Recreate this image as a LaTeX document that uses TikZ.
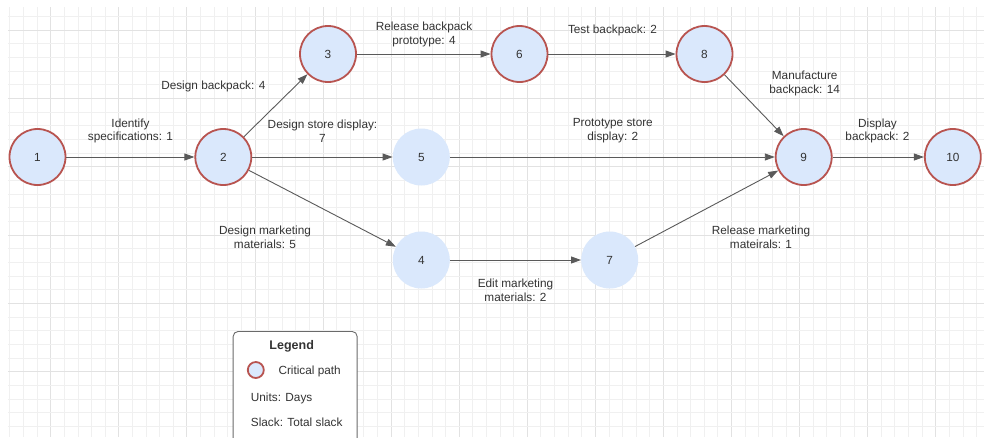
\documentclass[tikz,border=0pt]{standalone}
\usepackage{fontspec}
\setmainfont{Liberation Sans}
\usetikzlibrary{arrows.meta}
\definecolor{critred}{HTML}{B85450}
\definecolor{nodefill}{HTML}{DAE8FC}
\definecolor{txt}{HTML}{333333}
\definecolor{edgegray}{HTML}{5A5A5A}
\definecolor{gridminor}{HTML}{F0F0F0}
\definecolor{gridmajor}{HTML}{E2E2E2}
\definecolor{legendgray}{HTML}{6A6A6A}
\tikzset{
  lbl/.style={font=\fontsize{11.8}{13.8}\selectfont, text=txt, align=center, inner sep=0pt},
  crit/.style={circle, draw=critred, line width=1.8pt, fill=nodefill, minimum size=56pt, inner sep=0pt, font=\fontsize{11.8}{13.8}\selectfont, text=txt},
  noncrit/.style={circle, fill=nodefill, minimum size=57pt, inner sep=0pt, font=\fontsize{11.8}{13.8}\selectfont, text=txt},
  arr/.style={draw=edgegray, line width=0.9pt, -{Triangle[length=10pt,width=7pt]}},
  legendbox/.style={draw=legendgray, line width=0.9pt, rounded corners=5pt, fill=white, minimum width=124pt, minimum height=130pt, inner sep=0pt}
}
\begin{document}
\begin{tikzpicture}[x=1pt,y=-1pt]
\useasboundingbox (0,0) rectangle (984,437);
\fill[white] (0,0) rectangle (984,437);
% grid
\begin{scope}
\clip (8,7) rectangle (984,437);
\foreach \k in {0,...,71} {
  \pgfmathsetmacro{\xx}{9.9+13.615*\k}
  \pgfmathtruncatemacro{\mm}{mod(\k,5)}
  \ifnum\mm=3
    \draw[gridmajor, line width=0.9pt] (\xx,7) -- (\xx,437);
  \else
    \draw[gridminor, line width=0.9pt] (\xx,7) -- (\xx,437);
  \fi
}
\foreach \k in {0,...,31} {
  \pgfmathsetmacro{\yy}{16.4+13.665*\k}
  \pgfmathtruncatemacro{\mm}{mod(\k,5)}
  \ifnum\mm=1
    \draw[gridmajor, line width=0.9pt] (8,\yy) -- (984,\yy);
  \else
    \draw[gridminor, line width=0.9pt] (8,\yy) -- (984,\yy);
  \fi
}
\end{scope}
% nodes
\node[crit] (n1) at (37.5,157) {1};
\node[crit] (n2) at (223.3,157) {2};
\node[crit] (n3) at (328,54) {3};
\node[noncrit] (n5) at (421.3,157) {5};
\node[noncrit] (n4) at (421.3,260) {4};
\node[crit] (n6) at (519.5,54) {6};
\node[noncrit] (n7) at (609.7,260) {7};
\node[crit] (n8) at (704.5,54) {8};
\node[crit] (n9) at (803.7,157) {9};
\node[crit] (n10) at (952.8,157) {10};
% edges
\draw[arr] (n1) -- (n2);
\draw[arr] (n2) -- (n3);
\draw[arr] (n2) -- (n5);
\draw[arr] (n2) -- (n4);
\draw[arr] (n3) -- (n6);
\draw[arr] (n6) -- (n8);
\draw[arr] (n8) -- (n9);
\draw[arr] (n5) -- (n9);
\draw[arr] (n4) -- (n7);
\draw[arr] (n7) -- (n9);
\draw[arr] (n9) -- (n10);
% labels
\node[lbl] (l12) at (130.5,131) {Identify\\specifications: 1};
\node[lbl] (l23) at (213.3,86) {Design backpack: 4};
\node[lbl] (l25) at (322.5,131) {Design store display:\\7};
\node[lbl] (l36) at (424,34.5) {Release backpack\\prototype: 4};
\node[lbl] (l68) at (612.5,30) {Test backpack: 2};
\node[lbl] (l59) at (612.8,131) {Prototype store\\display: 2};
\node[lbl] (l89) at (804.7,83.7) {Manufacture\\backpack: 14};
\node[lbl] (l910) at (877.5,131) {Display\\backpack: 2};
\node[lbl] (l24) at (265,237) {Design marketing\\materials: 5};
\node[lbl] (l47) at (515.5,290) {Edit marketing\\materials: 2};
\node[lbl] (l79) at (761,237) {Release marketing\\mateirals: 1};
% legend
\node[legendbox, anchor=north west] (legend) at (232.7,331) {};
\node[lbl, font=\fontsize{12.5}{14}\selectfont\bfseries] (legtitle) at (291.7,346) {Legend};
\node[crit, minimum size=16pt] (legcirc) at (255.8,370) {};
\node[lbl, anchor=west] (legcrit) at (278.3,371) {Critical path};
\node[lbl, anchor=west] (legunits) at (250.7,398) {Units: Days};
\node[lbl, anchor=west] (legslack) at (250.7,422.5) {Slack: Total slack};
\end{tikzpicture}
\end{document}
